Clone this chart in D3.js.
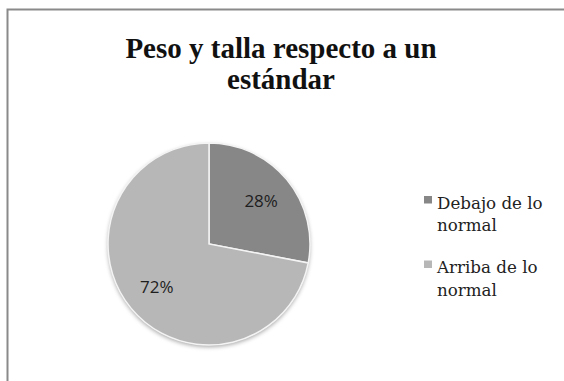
<!DOCTYPE html>
<html>
<head>
<meta charset="utf-8">
<script src="https://cdn.jsdelivr.net/npm/d3@7"></script>
<style>
  html, body { margin: 0; padding: 0; background: #fff; }
  svg { display: block; }
</style>
</head>
<body>
<svg id="chart" width="564" height="381"></svg>
<script>
// Chart data
const titleLines = ["Peso y talla respecto a un", "estándar"];
const categories = ["Debajo de lo normal", "Arriba de lo normal"];
const legendLines = [["Debajo de lo", "normal"], ["Arriba de lo", "normal"]];
const values = [28, 72];
const colors = ["#878787", "#b7b7b7"];

const svg = d3.select("#chart");
const W = 564, H = 381;

// Chart frame (clipped at right and bottom)
svg.append("rect")
  .attr("x", 7.5).attr("y", 9.5)
  .attr("width", W + 20).attr("height", H + 20)
  .attr("fill", "#fff")
  .attr("stroke", "#8a8a8a")
  .attr("stroke-width", 2);

// Title
const title = svg.append("text")
  .attr("text-anchor", "middle")
  .attr("font-family", "'Liberation Serif', serif")
  .attr("font-weight", "bold")
  .attr("font-size", 29)
  .attr("fill", "#111");
titleLines.forEach((t, i) => {
  title.append("tspan").attr("x", 281).attr("y", 58 + i * 31).text(t);
});

// Pie
const cx = 209, cy = 244, R = 101;
const defs = svg.append("defs");
const shadow = defs.append("filter").attr("id", "shadow")
  .attr("x", "-20%").attr("y", "-20%").attr("width", "140%").attr("height", "140%");
shadow.append("feDropShadow")
  .attr("dx", 0).attr("dy", 2).attr("stdDeviation", 2)
  .attr("flood-color", "#000").attr("flood-opacity", 0.35);

const pie = d3.pie().sort(null).value(d => d)
  .startAngle(0).endAngle(2 * Math.PI);
const arcs = pie(values);
const arc = d3.arc().innerRadius(0).outerRadius(R);
const labelArc = d3.arc().innerRadius(R * 0.67).outerRadius(R * 0.67);

const g = svg.append("g").attr("transform", `translate(${cx},${cy})`);
g.append("circle").attr("r", R).attr("fill", "#bbb").attr("filter", "url(#shadow)");
g.selectAll("path.slice")
  .data(arcs)
  .join("path")
  .attr("class", "slice")
  .attr("d", arc)
  .attr("fill", (d, i) => colors[i])
  .attr("stroke", "#f4f4f4")
  .attr("stroke-width", 1.5);

g.selectAll("text.pct")
  .data(arcs)
  .join("text")
  .attr("class", "pct")
  .attr("transform", d => `translate(${labelArc.centroid(d)})`)
  .attr("text-anchor", "middle")
  .attr("dy", "0.36em")
  .attr("font-family", "'Open Sans', sans-serif")
  .attr("font-size", 17)
  .attr("fill", "#1e1e1e")
  .text(d => d.data + "%");

// Legend
const legend = svg.append("g");
const lg = legend.selectAll("g")
  .data(categories)
  .join("g")
  .attr("transform", (d, i) => `translate(424, ${i * 64.5})`);
lg.append("rect")
  .attr("x", 0).attr("y", 196)
  .attr("width", 8).attr("height", 7.5)
  .attr("fill", (d, i) => colors[i]);
lg.append("text")
  .attr("font-family", "'DejaVu Serif', serif")
  .attr("font-size", 16.7)
  .attr("fill", "#222")
  .each(function (d, i) {
    const t = d3.select(this);
    legendLines[i].forEach((line, j) => {
      t.append("tspan").attr("x", 13).attr("y", 208.5 + j * 22.5).text(line);
    });
  });
</script>
</body>
</html>
